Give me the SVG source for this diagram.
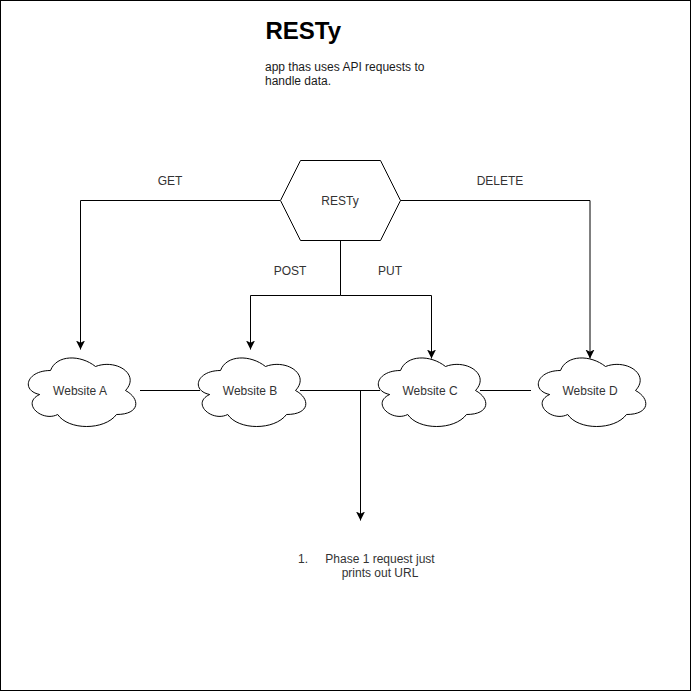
<svg xmlns="http://www.w3.org/2000/svg" width="691" height="691" viewBox="0 0 691 691">
<style>
.s{fill:#fff;stroke:#000;stroke-width:1}
.c{fill:none;stroke:#000;stroke-width:1}
.t{font-family:"Liberation Sans",Arial,sans-serif;font-size:12px;fill:#333;text-anchor:middle}
.b{font-family:"Liberation Sans",Arial,sans-serif;font-size:12px;fill:#1a1a1a}
</style>
<defs>
<marker id="a" markerUnits="userSpaceOnUse" markerWidth="11" markerHeight="11" refX="9" refY="5" orient="auto"><path d="M0 0.500L9 5L0 9.500L2.200 5Z" fill="#000"/></marker>
<path id="cloud" class="s" d="M30 20C6 20 0 40 19.200 44C0 52.800 21.600 72 37.200 64C48 80 84 80 96 64C120 64 120 48 105 40C120 24 96 8 75 16C60 4 36 4 30 20Z"/>
</defs>
<rect x="0.5" y="0.5" width="690" height="690" fill="#fff" stroke="#000"/>
<g id="connectors">
<path class="c" marker-end="url(#a)" d="M280 200.500H80.500V349.500"/>
<path class="c" marker-end="url(#a)" d="M400 200.500H590V358.500"/>
<path class="c" marker-end="url(#a)" d="M340.500 240V295.500H250.500V349.500"/>
<path class="c" marker-end="url(#a)" d="M340.500 295.500H431.500V358.500"/>
<path class="c" d="M140 390.500H200"/>
<path class="c" d="M300 390.500H380"/>
<path class="c" d="M480 390.500H531"/>
<path class="c" marker-end="url(#a)" d="M360.500 390.500V520.500"/>
</g>
<g id="title"><text x="265.500" y="39" font-family="'Liberation Sans',Arial,sans-serif" font-size="24" font-weight="bold" fill="#000">RESTy</text>
<text class="b" x="265" y="71">app thas uses API requests to</text>
<text class="b" x="265" y="85">handle data.</text></g>
<g id="resty"><path class="s" d="M280.500 200.500L300.500 160.500H380.500L400.500 200.500L380.500 240.500H300.500Z"/><text class="t" x="340" y="205">RESTy</text></g>
<g id="website-a"><use href="#cloud" x="20.500" y="350.500"/><text class="t" x="80" y="395">Website A</text></g>
<g id="website-b"><use href="#cloud" x="190.500" y="350.500"/><text class="t" x="250" y="395">Website B</text></g>
<g id="website-c"><use href="#cloud" x="370.500" y="350.500"/><text class="t" x="430" y="395">Website C</text></g>
<g id="website-d"><use href="#cloud" x="530.500" y="350.500"/><text class="t" x="590" y="395">Website D</text></g>
<g id="labels">
<text class="t" x="170" y="185">GET</text>
<text class="t" x="500" y="185">DELETE</text>
<text class="t" x="290" y="275">POST</text>
<text class="t" x="390" y="275">PUT</text>
<text class="t" x="303" y="563">1.</text>
<text class="t" x="380" y="563">Phase 1 request just</text>
<text class="t" x="380" y="577">prints out URL</text>
</g>
</svg>
